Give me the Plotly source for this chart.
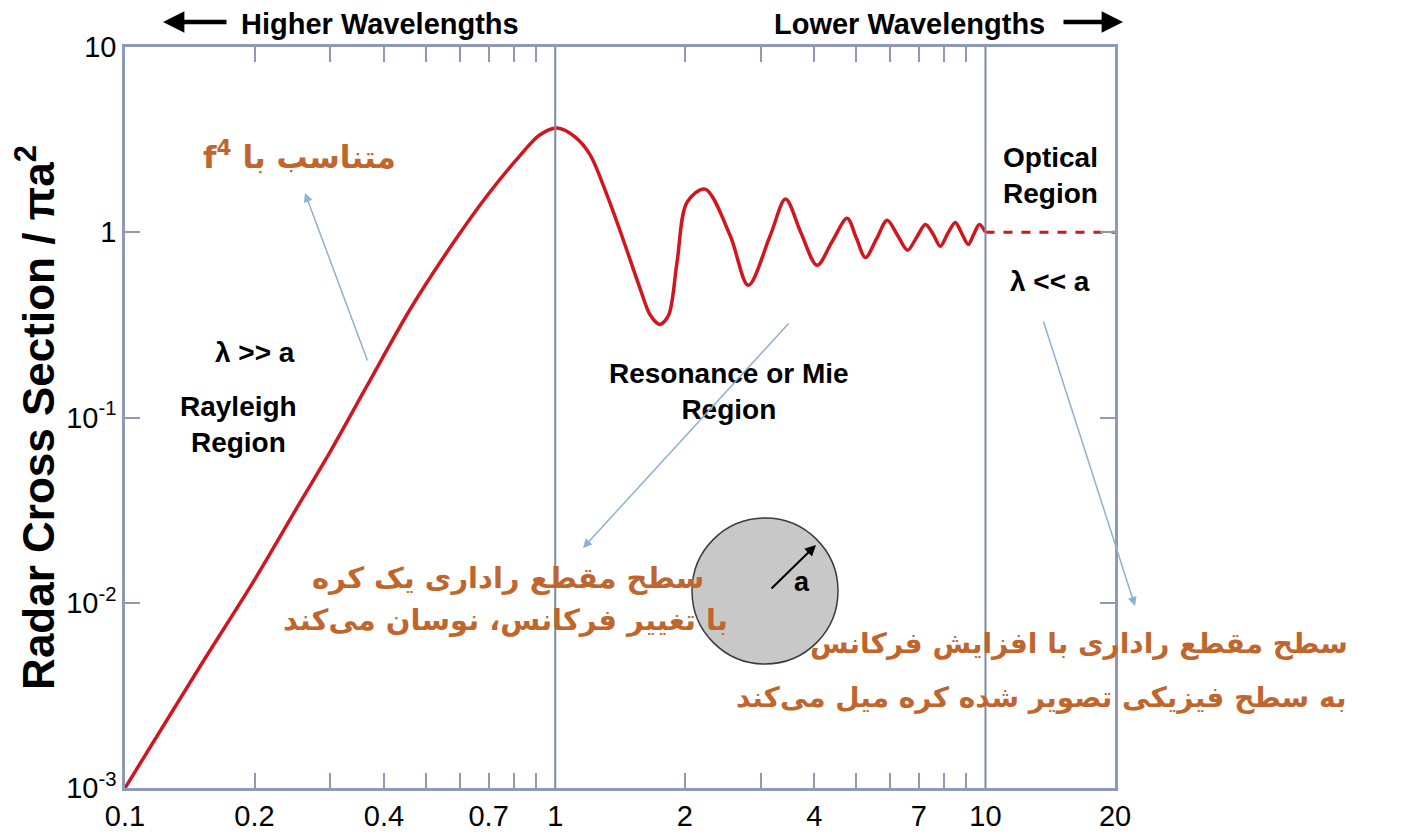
import plotly.graph_objects as go
import math

# ---- data ----
ka = [0.1, 0.15, 0.2, 0.255, 0.3, 0.365, 0.46, 0.58, 0.695, 0.83, 0.92, 1.01, 1.113,
      1.206, 1.32, 1.432, 1.577, 1.664, 1.75, 1.834, 1.919, 2.025, 2.23, 2.55, 2.81, 3.16, 3.43,
      3.72, 4.06, 4.4, 4.77, 5.01, 5.26, 5.58, 5.91, 6.25, 6.59, 6.92, 7.25,
      7.55, 7.85, 8.18, 8.51, 8.8, 9.12, 9.4, 9.68, 10.0]
rcs = [0.001, 0.0046, 0.0133, 0.0347, 0.0654, 0.148, 0.384, 0.88, 1.58, 2.61, 3.35, 3.65, 3.26,
       2.61, 1.58, 0.94, 0.492, 0.356, 0.318, 0.356, 0.689, 1.453, 1.71, 0.96, 0.517, 0.96, 1.51,
       1.0, 0.663, 0.89, 1.19, 0.93, 0.73, 0.92, 1.16, 0.96, 0.80, 0.94, 1.10,
       0.98, 0.84, 0.99, 1.13, 0.99, 0.86, 0.98, 1.10, 1.0]
optical_x = [10, 20]
optical_y = [1, 1]

x_tick_vals = [0.1, 0.2, 0.4, 0.7, 1, 2, 4, 7, 10, 20]
x_tick_text = ["0.1", "0.2", "0.4", "0.7", "1", "2", "4", "7", "10", "20"]
x_minor_vals = [0.2, 0.3, 0.4, 0.5, 0.6, 0.7, 0.8, 0.9, 2, 3, 4, 5, 6, 7, 8, 9]
y_tick_vals = [0.001, 0.01, 0.1, 1, 10]
y_tick_text = ["10<sup>-3</sup>", "10<sup>-2</sup>", "10<sup>-1</sup>", "1", "10"]
region_bounds = [1, 10]

RED = "#D0161E"
AX = "#8E9AB5"
ORANGE = "#C0662C"
BLUE = "#8EB0D2"
LAT = "Liberation Sans, Arial, sans-serif"
FA = "DejaVu Sans, sans-serif"

# page has an 8px body margin: figure is sized to fit the window
OFF = 8
W, H = 1415 - OFF, 839 - OFF
L, R, T, B = 125 - OFF, 300, 47 - OFF, 51
PW, PH = W - L - R, H - T - B


def px(x):  # page pixel -> paper
    return (x - OFF - L) / PW


def py(y):
    return (H - B - (y - OFF)) / PH


fig = go.Figure()
fig.add_trace(go.Scatter(x=ka, y=rcs, mode="lines",
                         line=dict(color=RED, width=3.5, shape="spline", smoothing=0.9),
                         hoverinfo="skip", showlegend=False))
fig.add_trace(go.Scatter(x=optical_x, y=optical_y, mode="lines",
                         line=dict(color=RED, width=3, dash="dash"), showlegend=False))

for xv in region_bounds:
    fig.add_shape(type="line", xref="x", yref="paper", x0=xv, x1=xv, y0=0, y1=1,
                  line=dict(color="#7D8AA6", width=2))

# sphere illustration
fig.add_shape(type="circle", xref="paper", yref="paper",
              x0=px(692), x1=px(838), y0=py(664), y1=py(518),
              fillcolor="#C8C8C8", line=dict(color="#3A3A3A", width=1.5), layer="above")

ann = []


def txt(x, y, s, size=24, color="black", font=LAT, xanchor="center", align="center"):
    ann.append(dict(x=px(x), y=py(y), xref="paper", yref="paper", text=s, showarrow=False,
                    font=dict(family=font, size=size, color=color), xanchor=xanchor,
                    yanchor="middle", align=align))


def arrow(hx, hy, tx, ty, color, width, head, size=1.0):
    ann.append(dict(x=px(hx), y=py(hy), xref="paper", yref="paper", text="",
                    showarrow=True, ax=tx - hx, ay=ty - hy, axref="pixel", ayref="pixel",
                    arrowcolor=color, arrowwidth=width, arrowhead=head, arrowsize=size,
                    standoff=0, startstandoff=0))


txt(380, 24, "<b>Higher Wavelengths</b>", size=29)
arrow(163, 22, 228, 22, "black", 4.5, 2, 0.95)
txt(909, 24, "<b>Lower Wavelengths</b>", size=29)
arrow(1123, 22, 1062, 22, "black", 4.5, 2, 0.95)

txt(299, 155, "<b>f<sup>4</sup> متناسب با</b>", size=31, color=ORANGE, font=FA)
txt(255, 352, "<b>λ >> a</b>", size=28)
txt(238, 424, "<b>Rayleigh<br>Region</b>", size=28)
txt(729, 392, "<b>Resonance or Mie<br>Region</b>", size=28)
txt(1050, 176, "<b>Optical<br>Region</b>", size=28)
txt(1050, 281, "<b>λ << a</b>", size=28)
txt(508, 578, "<b>سطح مقطع راداری یک کره</b>", size=29, color=ORANGE, font=FA)
txt(505, 620, "<b>با تغییر فرکانس، نوسان می‌کند</b>", size=29, color=ORANGE, font=FA)
txt(1350, 643, "<b>سطح مقطع راداری با افزایش فرکانس</b>", size=28, color=ORANGE, font=FA,
    xanchor="right", align="right")
txt(1348, 697, "<b>به سطح فیزیکی تصویر شده کره میل می‌کند</b>", size=28, color=ORANGE, font=FA,
    xanchor="right", align="right")

arrow(816, 545, 770, 590, "black", 2, 2, 1.1)
txt(802, 582, "<b>a</b>", size=27)

arrow(305, 193, 368, 362, BLUE, 1.5, 2, 1.2)
arrow(583, 548, 790, 322, BLUE, 1.5, 2, 1.2)
arrow(1135, 606, 1043, 320, BLUE, 1.5, 2, 1.2)

fig.update_layout(
    width=W, height=H, margin=dict(l=L, r=R, t=T, b=B, autoexpand=False),
    paper_bgcolor="white", plot_bgcolor="white", annotations=ann, showlegend=False,
    xaxis=dict(type="log", range=[math.log10(0.1), math.log10(20)], showgrid=False, zeroline=False,
               showline=True, linecolor=AX, linewidth=2.5, mirror="allticks",
               tickvals=x_tick_vals, ticktext=x_tick_text, ticks="inside", ticklen=0,
               tickfont=dict(family=LAT, size=29, color="black"),
               minor=dict(tickvals=x_minor_vals, ticks="inside", ticklen=15, tickcolor=AX,
                          tickwidth=1.5, showgrid=False)),
    yaxis=dict(type="log", range=[-3, 1], showgrid=False, zeroline=False,
               showline=True, linecolor=AX, linewidth=2.5, mirror="allticks",
               tickvals=y_tick_vals, ticktext=y_tick_text, ticks="inside", ticklen=15,
               tickcolor=AX, tickwidth=1.5,
               tickfont=dict(family=LAT, size=29, color="black"),
               title=dict(text="<b>Radar Cross Section / πa<sup>2</sup></b>", standoff=6,
                          font=dict(family=LAT, size=44, color="black"))),
)

fig.write_html("out.html")
